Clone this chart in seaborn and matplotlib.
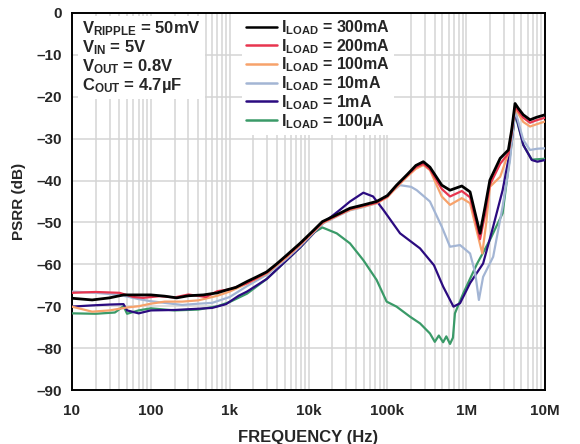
import numpy as np
import pandas as pd
import seaborn as sns
import matplotlib.pyplot as plt
from matplotlib.ticker import FixedLocator, LogLocator, NullFormatter

# PSRR vs frequency for several load currents
freq_300m = [10, 18, 30, 45, 100, 150, 213, 300, 464, 700, 918, 1.2e3, 1.66e3, 2.2e3, 2.95e3, 4e3,
             5.3e3, 7.8e3, 11e3, 15e3, 25e3, 33.6e3, 50e3, 73e3, 100e3, 131e3, 180e3, 230e3, 286e3,
             347e3, 490e3, 624e3, 880e3, 1.12e6, 1.3e6, 1.5e6, 1.74e6, 2.0e6, 2.7e6, 3.43e6, 3.78e6,
             4.17e6, 4.6e6, 5.3e6, 6.46e6, 7.8e6, 10e6]
psrr_300m = [-68.1, -68.5, -68.0, -67.3, -67.3, -67.6, -68.0, -67.5, -67.3, -66.8, -66.1, -65.5, -64.1,
             -63.0, -61.8, -59.8, -57.8, -55.0, -52.3, -49.8, -47.8, -46.6, -45.8, -45.0, -43.6, -41.1,
             -38.5, -36.4, -35.5, -36.8, -41.1, -42.3, -41.3, -42.7, -47.8, -52.6, -46.2, -39.9, -34.7,
             -32.7, -27.9, -21.6, -22.8, -24.3, -25.5, -24.9, -24.3]

freq_200m = [10, 20, 40, 60, 80, 130, 200, 300, 500, 700, 1e3, 1.66e3, 2.95e3, 5.3e3, 7.8e3, 15e3,
             25e3, 33.6e3, 50e3, 73e3, 100e3, 131e3, 180e3, 230e3, 286e3, 347e3, 490e3, 624e3, 880e3,
             1.12e6, 1.3e6, 1.5e6, 1.74e6, 2.0e6, 2.7e6, 3.43e6, 3.78e6, 4.17e6, 4.6e6, 5.3e6, 6.46e6,
             7.8e6, 10e6]
psrr_200m = [-66.8, -66.6, -66.8, -67.8, -68.0, -67.6, -67.9, -67.2, -67.8, -66.4, -66.0, -64.5, -62.0,
             -58.0, -55.2, -50.0, -48.0, -46.8, -46.0, -45.3, -43.8, -41.3, -38.7, -36.8, -36.0, -37.3,
             -42.0, -43.8, -42.5, -44.0, -49.0, -54.0, -48.0, -41.0, -36.0, -33.5, -28.5, -22.2, -23.5,
             -25.0, -26.2, -25.6, -25.0]

freq_100m = [10, 18, 30, 50, 70, 100, 150, 250, 400, 700, 1e3, 1.66e3, 2.95e3, 5.3e3, 7.8e3, 15e3,
             25e3, 33.6e3, 50e3, 73e3, 100e3, 131e3, 180e3, 230e3, 286e3, 347e3, 490e3, 624e3, 880e3,
             1.12e6, 1.3e6, 1.6e6, 1.8e6, 2.0e6, 2.7e6, 3.43e6, 3.78e6, 4.17e6, 5.3e6, 6.46e6, 8e6, 10e6]
psrr_100m = [-70.1, -71.3, -71.0, -70.3, -70.0, -69.4, -68.9, -68.9, -68.6, -67.5, -66.5, -64.6, -62.2,
             -58.3, -55.4, -50.2, -48.1, -47.0, -46.2, -45.4, -44.0, -41.6, -39.0, -37.2, -36.3, -37.5,
             -43.8, -45.8, -44.2, -45.4, -50.5, -57.4, -50.0, -41.5, -39.1, -33.5, -28.0, -22.8, -26.0,
             -27.1, -26.5, -25.9]

freq_10m = [10, 20, 40, 70, 100, 150, 250, 400, 600, 1e3, 1.66e3, 2.95e3, 5.3e3, 7.8e3, 15e3, 25e3,
            33.6e3, 50e3, 73e3, 100e3, 145e3, 200e3, 236e3, 347e3, 490e3, 624e3, 836e3, 1.12e6, 1.3e6,
            1.45e6, 1.64e6, 2.2e6, 2.9e6, 3.6e6, 4.17e6, 5.3e6, 6.46e6, 8e6, 10e6]
psrr_10m = [-66.5, -66.8, -67.3, -68.3, -68.8, -69.2, -69.7, -69.4, -69.2, -67.8, -65.2, -62.5, -58.6,
            -55.7, -50.3, -48.2, -47.1, -46.3, -45.4, -43.5, -41.1, -41.5, -42.3, -45.0, -51.0, -55.8,
            -55.4, -57.4, -62.0, -68.5, -63.0, -58.2, -46.2, -35.1, -23.2, -30.3, -32.7, -32.4, -32.3]

freq_1m = [10, 18, 30, 45, 50, 70, 100, 200, 400, 600, 900, 1.3e3, 1.66e3, 2.95e3, 5.3e3, 7.8e3,
           15e3, 25e3, 33.6e3, 49.6e3, 66e3, 89e3, 145e3, 260e3, 390e3, 510e3, 690e3, 836e3, 1.12e6,
           1.64e6, 2.2e6, 2.9e6, 3.78e6, 4.17e6, 5.3e6, 6.8e6, 8e6, 10e6]
psrr_1m = [-70.1, -69.8, -69.6, -69.5, -71.0, -71.7, -71.0, -70.9, -70.6, -70.4, -69.5, -67.5, -66.5,
           -63.5, -59.0, -56.0, -50.3, -47.0, -45.0, -42.9, -43.8, -47.0, -52.6, -56.2, -60.2, -65.3,
           -70.1, -69.3, -64.5, -59.8, -51.0, -42.3, -30.8, -23.6, -31.5, -35.1, -35.5, -35.1]

freq_100u = [10, 20, 35, 45, 50, 70, 100, 200, 400, 700, 1e3, 1.66e3, 2.95e3, 5.3e3, 7.8e3, 12e3,
             15e3, 22.8e3, 33.6e3, 49.6e3, 73e3, 98e3, 131e3, 194e3, 260e3, 347e3, 400e3, 450e3, 510e3,
             560e3, 624e3, 680e3, 720e3, 920e3, 1.38e6, 2.0e6, 2.9e6, 3.78e6, 4.17e6, 5.3e6, 6.8e6, 10e6]
psrr_100u = [-71.7, -71.8, -71.5, -70.0, -71.8, -71.0, -70.5, -71.0, -70.8, -70.0, -69.0, -67.0, -63.5,
             -59.0, -56.0, -52.3, -51.2, -52.6, -55.0, -59.0, -63.7, -68.9, -70.1, -72.5, -74.1, -76.5,
             -78.5, -77.0, -78.6, -77.2, -79.0, -77.5, -71.7, -66.9, -59.8, -54.2, -47.8, -31.0, -24.0,
             -31.5, -35.0, -34.8]

labels = ["300mA", "200mA", "100mA", "10mA", "1mA", "100\u00b5A"]
colors = ["#000000", "#e8354f", "#f7a26b", "#a3b5d4", "#2b0b80", "#3a9a68"]
freqs = [freq_300m, freq_200m, freq_100m, freq_10m, freq_1m, freq_100u]
psrrs = [psrr_300m, psrr_200m, psrr_100m, psrr_10m, psrr_1m, psrr_100u]
widths = [2.0, 1.6, 1.6, 1.6, 1.6, 1.6]

df = pd.concat([pd.DataFrame({"freq": f, "psrr": p, "load": l})
                for f, p, l in zip(freqs, psrrs, labels)], ignore_index=True)

sns.set_style("white")
plt.rcParams['font.family'] = ['Liberation Sans', 'DejaVu Sans']
plt.rcParams['font.weight'] = 'bold'
plt.rcParams['mathtext.fontset'] = 'custom'
plt.rcParams['mathtext.rm'] = 'Liberation Sans:bold'
plt.rcParams['mathtext.bf'] = 'Liberation Sans:bold'
plt.rcParams['mathtext.it'] = 'Liberation Sans:bold'

fig = plt.figure(figsize=(5.8, 4.44), dpi=100)
ax = fig.add_axes([72 / 580, 1 - 390 / 444, 473 / 580, 377 / 444])

# draw the lightest load first so the 300mA trace ends up on top
for lab, col, lw in reversed(list(zip(labels, colors, widths))):
    sns.lineplot(data=df[df["load"] == lab], x="freq", y="psrr", color=col, lw=lw,
                 sort=False, estimator=None, label=lab, ax=ax, zorder=3)

ax.set_xscale("log")
ax.set_xlim(10, 10e6)
ax.set_ylim(-90, 0)
ax.xaxis.set_major_locator(FixedLocator([10, 100, 1e3, 1e4, 1e5, 1e6, 1e7]))
ax.set_xticklabels(["10", "100", "1k", "10k", "100k", "1M", "10M"])
ax.xaxis.set_minor_locator(LogLocator(base=10, subs=np.arange(2, 10), numticks=20))
ax.xaxis.set_minor_formatter(NullFormatter())
yt = np.arange(-90, 1, 10)
ax.set_yticks(yt)
ax.set_yticklabels([str(v).replace("-", "\u2013") for v in yt])
ax.tick_params(axis="both", which="both", length=0, labelsize=11)
ax.tick_params(axis="x", pad=10)
ax.tick_params(axis="y", pad=7)

ax.grid(True, which="major", color="#d4d4d4", lw=1.1, zorder=0)
ax.grid(True, which="minor", axis="x", color="#d4d4d4", lw=1.1, zorder=0)
for s in ax.spines.values():
    s.set_color("black")
    s.set_linewidth(1.4)

ax.set_xlabel("FREQUENCY (Hz)", fontsize=12, fontweight="bold", labelpad=9)
ax.set_ylabel("PSRR (dB)", fontsize=11, fontweight="bold", labelpad=8)

handles, labs = ax.get_legend_handles_labels()
handles = handles[::-1]
leg = ax.legend(handles, [r"I$_{\mathrm{LOAD}}$ = " + l for l in labels[:]],
                loc="upper left", bbox_to_anchor=(0.36, 0.997), fontsize=11.5,
                frameon=True, fancybox=False, framealpha=1, facecolor="white",
                edgecolor="none", handlelength=1.9, handletextpad=0.25,
                labelspacing=0.0, borderpad=0.25, borderaxespad=0)
leg.set_zorder(5)
for h in leg.legend_handles:
    h.set_linewidth(1.8)

ax.text(0.022, 0.982,
        "V$_{\\mathrm{RIPPLE}}$ = 50mV\nV$_{\\mathrm{IN}}$ = 5V\n"
        "V$_{\\mathrm{OUT}}$ = 0.8V\nC$_{\\mathrm{OUT}}$ = 4.7\u00b5F",
        transform=ax.transAxes, ha="left", va="top", fontsize=12, fontweight="bold",
        linespacing=1.0, zorder=5,
        bbox=dict(facecolor="white", edgecolor="none", pad=3))

fig.savefig("out.png", dpi=100)
